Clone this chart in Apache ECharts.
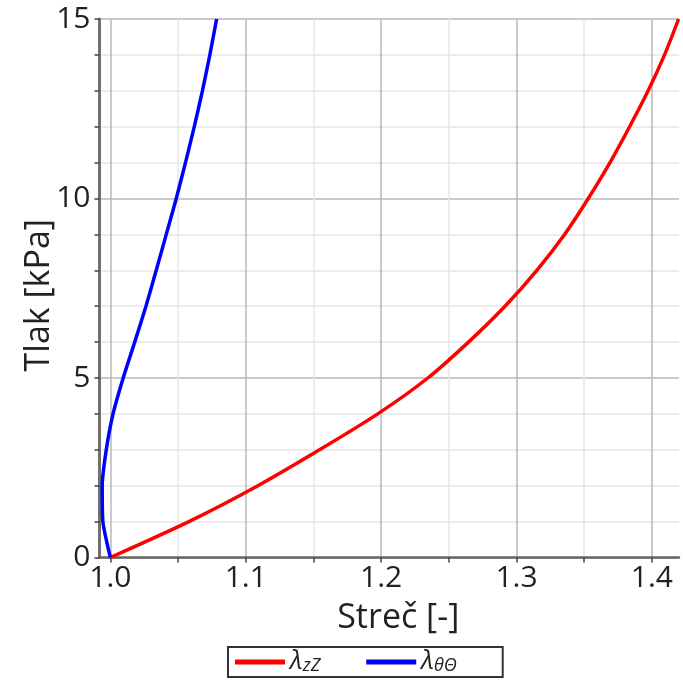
<!DOCTYPE html>
<html>
<head>
<meta charset="utf-8">
<script src="https://cdn.jsdelivr.net/npm/echarts@6.0.0/dist/echarts.min.js"></script>
<style>
  html, body { margin: 0; padding: 0; background: #fff; }
  #chart { width: 683px; height: 683px; }
</style>
</head>
<body>
<div id="chart"></div>
<script>
// pressure levels [kPa]
const pressure = [0, 1, 2, 3, 4, 5, 6, 7, 8, 9, 10, 11, 12, 13, 14, 15];
// axial stretch lambda_zZ
const stretchZZ = [1.0, 1.058, 1.109, 1.1545, 1.1975, 1.2345, 1.2645, 1.2915, 1.315, 1.3355,
  1.353, 1.369, 1.3835, 1.3972, 1.4093, 1.4197];
// circumferential stretch lambda_thetaTheta
const stretchTT = [1.0, 0.9945, 0.994, 0.997, 1.002, 1.0095, 1.018, 1.0263, 1.0339, 1.0413,
  1.0487, 1.0555, 1.062, 1.068, 1.0735, 1.0785];

const xTicks = [1.0, 1.05, 1.1, 1.15, 1.2, 1.25, 1.3, 1.35, 1.4];
const xLabels = [1.0, 1.1, 1.2, 1.3, 1.4];
const seriesNames = ['lzZ', 'ltt'];

const font = 'Open Sans';
const majorGrid = '#b8b8b8';
const minorGrid = '#e6e6e6';

const chart = echarts.init(document.getElementById('chart'));

chart.setOption({
  animation: false,
  backgroundColor: '#fff',
  grid: {
    left: 99.5,
    right: 4,
    top: 19,
    bottom: 125.5,
    containLabel: false,
    outerBoundsMode: 'none'
  },
  xAxis: {
    type: 'value',
    min: 0.992,
    max: 1.42,
    name: 'Streč [-]',
    nameLocation: 'middle',
    nameGap: 44,
    nameMoveOverlap: false,
    nameTextStyle: { fontFamily: font, fontSize: 34, color: '#222', padding: [0, 0, 0, 18] },
    axisLine: { onZero: false, lineStyle: { color: '#666', width: 2.5 } },
    axisTick: { show: true, inside: false, length: 5, customValues: xTicks, lineStyle: { color: '#444', width: 1.5 } },
    axisLabel: {
      customValues: xLabels,
      formatter: v => v.toFixed(1),
      margin: 6,
      fontFamily: font,
      fontSize: 30,
      color: '#222'
    },
    splitLine: { show: true, lineStyle: { color: [majorGrid, minorGrid], width: 1.5 } }
  },
  yAxis: {
    type: 'value',
    min: 0,
    max: 15,
    interval: 1,
    name: 'Tlak [kPa]',
    nameLocation: 'middle',
    nameRotate: 90,
    nameGap: 43,
    nameMoveOverlap: false,
    nameTextStyle: { fontFamily: font, fontSize: 34, color: '#222', padding: [0, 14, 0, 0] },
    axisLine: { show: true, onZero: false, lineStyle: { color: '#707070', width: 3 } },
    axisTick: { show: true, inside: false, length: 5, lineStyle: { color: '#444', width: 1.5 } },
    axisLabel: {
      formatter: v => (v % 5 === 0 ? String(v) : ''),
      margin: 9,
      fontFamily: font,
      fontSize: 30,
      color: '#222'
    },
    splitLine: {
      show: true,
      lineStyle: { color: [majorGrid, minorGrid, minorGrid, minorGrid, minorGrid], width: 1.5 }
    }
  },
  legend: {
    left: 228,
    top: 647,
    padding: [2, 46, 2, 7],
    borderColor: '#333',
    borderWidth: 2,
    borderRadius: 0,
    icon: 'rect',
    itemWidth: 50,
    itemHeight: 5,
    itemGap: 46,
    data: seriesNames,
    formatter: name => (name === 'lzZ' ? '{l|λ}{s|zZ}' : '{l|λ}{s|θΘ}'),
    textStyle: {
      rich: {
        l: { fontFamily: font, fontStyle: 'italic', fontSize: 26, lineHeight: 26, color: '#222', verticalAlign: 'bottom' },
        s: { fontFamily: font, fontStyle: 'italic', fontSize: 18, lineHeight: 16, color: '#222', verticalAlign: 'bottom' }
      }
    }
  },
  series: [
    {
      name: 'lzZ',
      type: 'line',
      data: pressure.map((p, i) => [stretchZZ[i], p]),
      showSymbol: false,
      symbol: 'none',
      smooth: 0.25,
      color: '#ff0000',
      lineStyle: { color: '#ff0000', width: 3.5 }
    },
    {
      name: 'ltt',
      type: 'line',
      data: pressure.map((p, i) => [stretchTT[i], p]),
      showSymbol: false,
      symbol: 'none',
      smooth: 0.2,
      color: '#0000ff',
      lineStyle: { color: '#0000ff', width: 3.5 }
    }
  ]
});
</script>
</body>
</html>
